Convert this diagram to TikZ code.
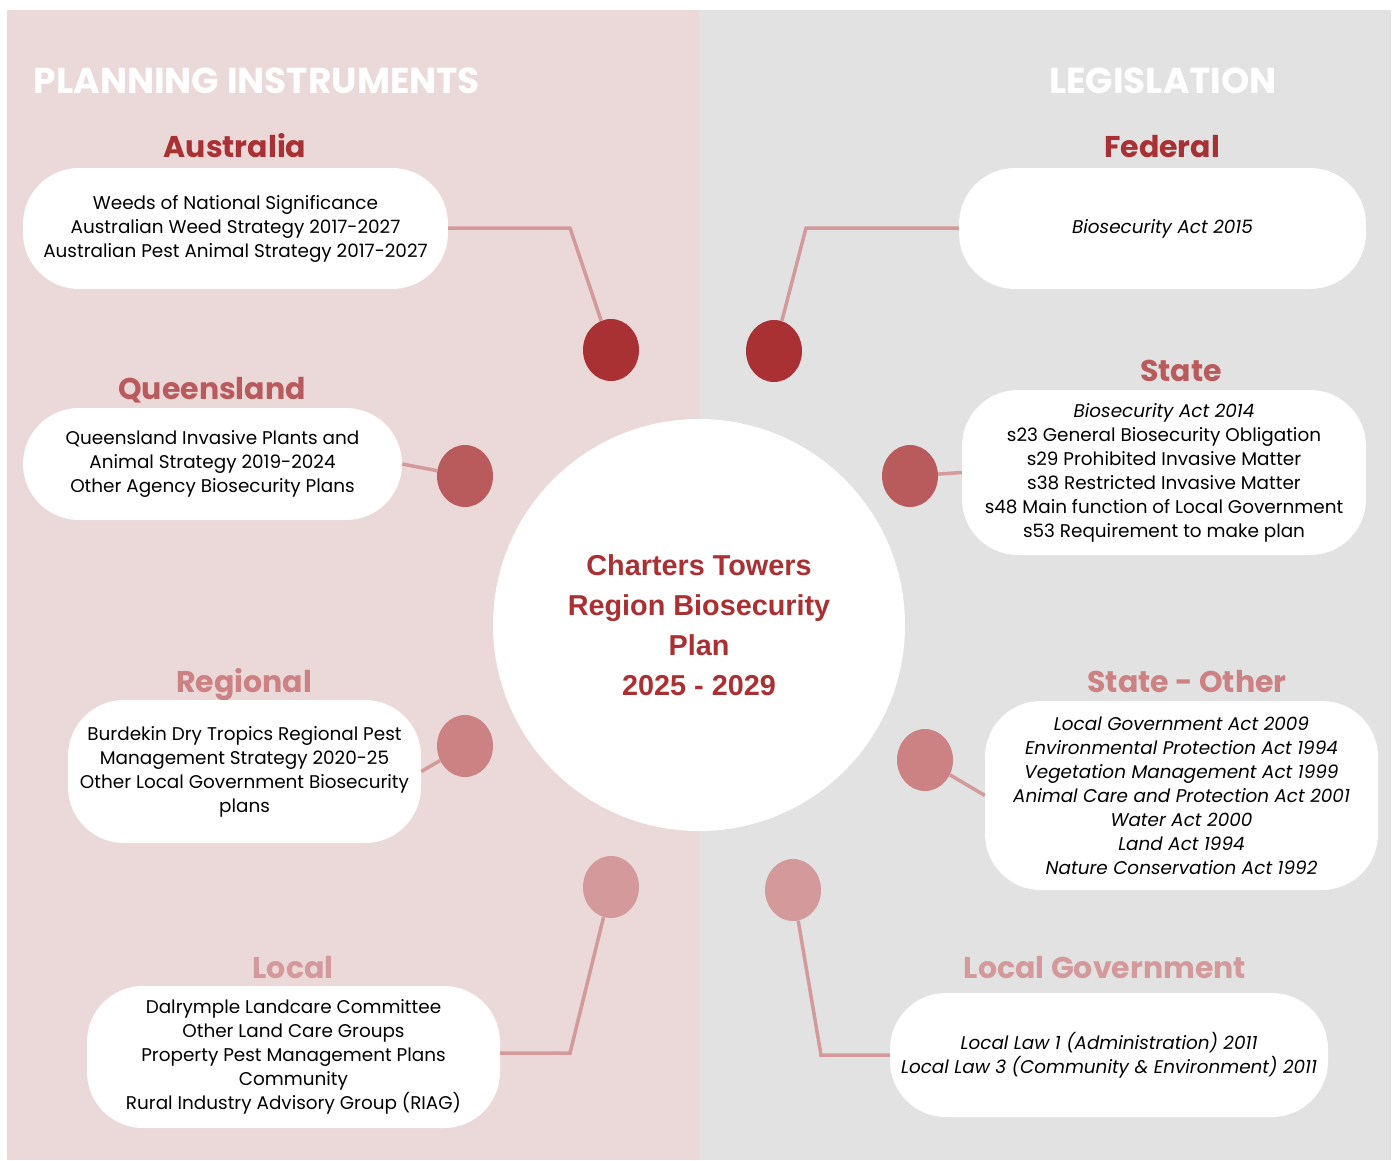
\documentclass[tikz,border=0pt]{standalone}
\usepackage{fontspec}
\setmainfont{Poppins}
\newfontfamily\hubfont{Liberation Sans}
\usetikzlibrary{shapes.geometric}
\definecolor{PlanClr}{HTML}{EBD8D8}
\definecolor{LawClr}{HTML}{E2E2E2}
\definecolor{LevelOneClr}{HTML}{A93033}
\definecolor{LevelTwoClr}{HTML}{B95A5C}
\definecolor{LevelThreeClr}{HTML}{CC8183}
\definecolor{LevelFourClr}{HTML}{D49A9B}

\begin{document}
\begin{tikzpicture}[x=1pt,y=-1pt,
  pill/.style={fill=white,rounded corners=56pt,align=center,inner sep=0pt,
    font=\fontsize{18.4}{24}\selectfont},
  level/.style={text height=22pt,text depth=6pt,inner sep=0pt,
    font=\fontsize{30}{30}\bfseries\selectfont},
  heading/.style={text=white,font=\fontsize{36}{36}\bfseries\selectfont},
  dot/.style={ellipse,minimum width=56pt,minimum height=62pt,inner sep=0pt},
  link/.style={draw=LevelFourClr,line width=3.5pt}]
\useasboundingbox (0,0) rectangle (1397,1160);

% the two halves
\fill[PlanClr] (7,10) rectangle (699,1160);
\fill[LawClr] (699,10) rectangle (1391,1160);

\node[heading] (hPlan) at (257,81) {PLANNING INSTRUMENTS};
\node[heading] (hLaw) at (1163,81) {LEGISLATION};

% plan in the middle
\node[circle,fill=white,minimum size=412pt,inner sep=0pt,align=center,
  text=LevelOneClr,font=\hubfont\fontsize{28.8}{40}\bfseries\selectfont] (hub) at (699,625)
  {Charters Towers\\Region Biosecurity\\Plan\\2025 - 2029};

% planning instruments
\node[level,text=LevelOneClr] (tAus) at (235,149) {Australia};
\node[pill,minimum width=425pt,minimum height=121pt] (bAus) at (235.5,228.5)
  {Weeds of National Significance\\Australian Weed Strategy 2017-2027\\Australian Pest Animal Strategy 2017-2027};
\node[level,text=LevelTwoClr] (tQld) at (212,391) {Queensland};
\node[pill,minimum width=379pt,minimum height=112pt] (bQld) at (212.5,464)
  {Queensland Invasive Plants and\\Animal Strategy 2019-2024\\Other Agency Biosecurity Plans};
\node[level,text=LevelThreeClr] (tReg) at (244,684) {Regional};
\node[pill,minimum width=353pt,minimum height=143pt] (bReg) at (244.5,771.5)
  {Burdekin Dry Tropics Regional Pest\\Management Strategy 2020-25\\Other Local Government Biosecurity\\plans};
\node[level,text=LevelFourClr] (tLoc) at (293,970) {Local};
\node[pill,minimum width=413pt,minimum height=142pt] (bLoc) at (293.5,1057)
  {Dalrymple Landcare Committee\\Other Land Care Groups\\Property Pest Management Plans\\Community\\Rural Industry Advisory Group (RIAG)};

% legislation
\node[level,text=LevelOneClr] (tFed) at (1162,149) {Federal};
\node[pill,minimum width=407pt,minimum height=121pt] (bFed) at (1162.5,228.5)
  {\itshape Biosecurity Act 2015};
\node[level,text=LevelTwoClr] (tSta) at (1181,373) {State};
\node[pill,minimum width=404pt,minimum height=165pt] (bSta) at (1164,472.5)
  {\textit{Biosecurity Act 2014}\\s23 General Biosecurity Obligation\\s29 Prohibited Invasive Matter\\s38 Restricted Invasive Matter\\s48 Main function of Local Government\\s53 Requirement to make plan};
\node[level,text=LevelThreeClr] (tOth) at (1187,684) {State - Other};
\node[pill,minimum width=393pt,minimum height=189pt] (bOth) at (1181.5,795.5)
  {\itshape Local Government Act 2009\\\itshape Environmental Protection Act 1994\\\itshape Vegetation Management Act 1999\\\itshape Animal Care and Protection Act 2001\\\itshape Water Act 2000\\\itshape Land Act 1994\\\itshape Nature Conservation Act 1992};
\node[level,text=LevelFourClr] (tLgv) at (1105,970) {Local Government};
\node[pill,minimum width=438pt,minimum height=124pt] (bLgv) at (1109,1055)
  {\itshape Local Law 1 (Administration) 2011\\\itshape Local Law 3 (Community \& Environment) 2011};

% dots
\node[dot,fill=LevelOneClr] (dAus) at (611,350) {};
\node[dot,fill=LevelOneClr] (dFed) at (774,351) {};
\node[dot,fill=LevelTwoClr] (dQld) at (465,476) {};
\node[dot,fill=LevelTwoClr] (dSta) at (910,476) {};
\node[dot,fill=LevelThreeClr] (dReg) at (465,746) {};
\node[dot,fill=LevelThreeClr] (dOth) at (925,760) {};
\node[dot,fill=LevelFourClr] (dLoc) at (611,887) {};
\node[dot,fill=LevelFourClr] (dLgv) at (793,890) {};

% connectors
\coordinate (kAus) at (570,228);
\coordinate (kFed) at (806,228);
\coordinate (kLoc) at (570,1053);
\coordinate (kLgv) at (821,1055);
\draw[link] (bAus.east |- kAus) -- (kAus) -- (dAus);
\draw[link] (bFed.west |- kFed) -- (kFed) -- (dFed);
\draw[link] (bQld.east) -- (dQld);
\draw[link] (bSta.west) -- (dSta);
\draw[link] (bReg.east) -- (dReg);
\draw[link] (bOth.west) -- (dOth);
\draw[link] (bLoc.east |- kLoc) -- (kLoc) -- (dLoc);
\draw[link] (bLgv.west |- kLgv) -- (kLgv) -- (dLgv);
\end{tikzpicture}
\end{document}
